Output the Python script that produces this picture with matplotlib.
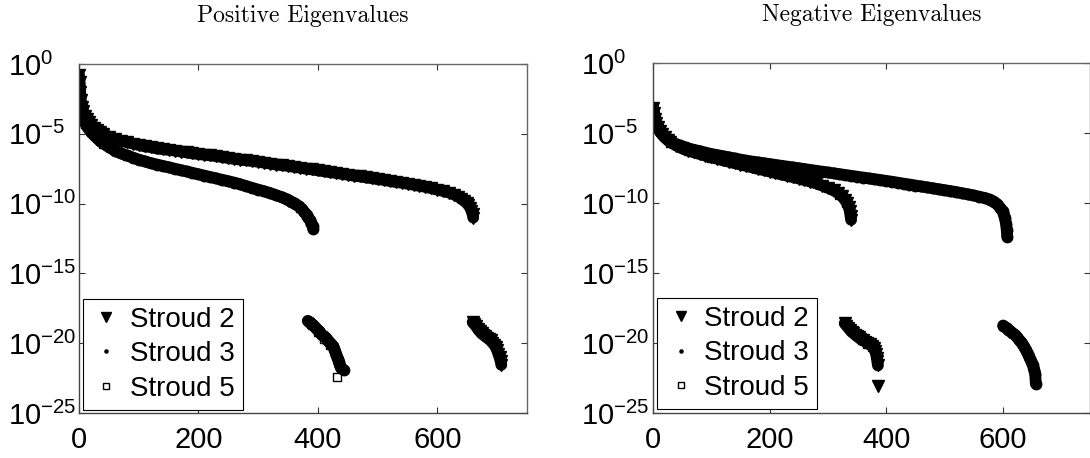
import numpy as np
import matplotlib
matplotlib.use("Agg")
import matplotlib.pyplot as plt
from matplotlib.ticker import NullLocator

plt.rcParams['font.family'] = ['Liberation Sans', 'DejaVu Sans']

# ---------------- data (index, log10 of eigenvalue magnitude) ----------------
labels = ["Stroud 2", "Stroud 3", "Stroud 5"]
titles = ["Positive Eigenvalues", "Negative Eigenvalues"]
xticks = [0, 200, 400, 600]
ytick_exps = [0, -5, -10, -15, -20, -25]

# Positive, Stroud 2 (long branch + near-zero cluster)
pos_s2_idx = [0, 1, 2, 3, 5, 7, 10, 13, 16, 20, 25, 30, 35, 40, 50, 60, 70, 80, 90, 100,
              110, 120, 130, 140, 150, 160, 170, 180, 190, 200, 210, 220, 230, 240, 250,
              260, 270, 280, 290, 300, 310, 320, 330, 340, 350, 360, 370, 380, 390, 400,
              410, 420, 430, 440, 450, 460, 470, 480, 490, 500, 510, 520, 530, 540, 550,
              560, 570, 580, 590, 600, 610, 620, 628, 635, 640, 645, 649, 652, 655, 657,
              659, 660,
              659, 662, 665, 668, 671, 674, 677, 680, 683, 686, 689, 692, 695, 698, 700,
              702, 704, 706, 707]
pos_s2_log = [-0.8, -1.3, -2.0, -2.6, -3.1, -3.4, -3.7, -3.95, -4.15, -4.35, -4.55, -4.75,
              -4.9, -5.0, -5.2, -5.35, -5.5, -5.6, -5.7, -5.8, -5.9, -5.95, -6.05, -6.1,
              -6.15, -6.2, -6.27, -6.33, -6.4, -6.45, -6.5, -6.55, -6.6, -6.67, -6.73,
              -6.8, -6.85, -6.9, -6.95, -7.0, -7.07, -7.13, -7.2, -7.25, -7.3, -7.37,
              -7.43, -7.5, -7.55, -7.62, -7.68, -7.75, -7.8, -7.87, -7.93, -8.0, -8.05,
              -8.12, -8.18, -8.25, -8.3, -8.38, -8.45, -8.5, -8.58, -8.65, -8.73, -8.8,
              -8.9, -9.0, -9.1, -9.22, -9.35, -9.5, -9.65, -9.8, -9.95, -10.1, -10.3,
              -10.5, -10.75, -11.0,
              -18.5, -18.65, -18.8, -19.0, -19.15, -19.3, -19.4, -19.5, -19.6, -19.7,
              -19.8, -19.95, -20.1, -20.3, -20.5, -20.75, -21.0, -21.3, -21.55]

# Positive, Stroud 3
pos_s3_idx = [0, 1, 2, 3, 5, 7, 10, 13, 16, 20, 25, 30, 35, 40, 45, 50, 60, 70, 80, 90, 100,
              110, 120, 130, 140, 150, 160, 170, 180, 190, 200, 210, 220, 230, 240, 250,
              260, 270, 280, 290, 300, 310, 320, 330, 340, 348, 355, 362, 368, 373, 377,
              381, 384, 387, 389, 391, 392,
              383, 386, 389, 392, 395, 398, 401, 404, 407, 410, 413, 416, 419, 422, 425,
              427, 429, 431, 433, 435, 437, 439, 443]
pos_s3_log = [-1.6, -2.3, -2.8, -3.2, -3.6, -3.9, -4.2, -4.45, -4.65, -4.85, -5.1, -5.3,
              -5.5, -5.65, -5.8, -5.95, -6.2, -6.4, -6.55, -6.7, -6.85, -6.98, -7.1, -7.2,
              -7.3, -7.4, -7.5, -7.6, -7.7, -7.8, -7.9, -8.0, -8.1, -8.2, -8.3, -8.4, -8.5,
              -8.62, -8.75, -8.88, -9.0, -9.12, -9.25, -9.4, -9.55, -9.7, -9.85, -10.0,
              -10.2, -10.4, -10.6, -10.8, -11.0, -11.2, -11.4, -11.6, -11.8,
              -18.4, -18.5, -18.6, -18.7, -18.85, -19.0, -19.1, -19.25, -19.4, -19.5,
              -19.6, -19.75, -19.9, -20.05, -20.2, -20.4, -20.6, -20.85, -21.1, -21.35,
              -21.6, -21.8, -21.9]

# Positive, Stroud 5 (mostly hidden under Stroud 3)
pos_s5_idx = [0, 2, 5, 10, 20, 40, 80, 120, 160, 200, 240, 280, 320, 350, 370, 380, 386,
              390, 400, 410, 420, 428, 432]
pos_s5_log = [-2.5, -3.0, -3.7, -4.3, -4.9, -5.7, -6.6, -7.1, -7.5, -7.9, -8.3, -8.75,
              -9.25, -9.75, -10.3, -10.8, -11.3, -18.7, -19.2, -19.7, -20.1, -20.6, -22.4]

# Negative, Stroud 2 (short branch + cluster)
neg_s2_idx = [0, 2, 4, 6, 9, 12, 16, 20, 25, 30, 40, 50, 60, 70, 80, 90, 100, 110, 120,
              130, 140, 150, 160, 170, 180, 190, 200, 210, 220, 230, 240, 250, 260, 270,
              280, 290, 300, 310, 318, 324, 329, 333, 336, 338, 339, 340,
              329, 332, 335, 338, 341, 344, 347, 350, 353, 356, 360, 364, 368, 372, 376,
              379, 381, 383, 384, 385, 386, 387]
neg_s2_log = [-3.2, -3.6, -4.0, -4.3, -4.6, -4.85, -5.1, -5.3, -5.5, -5.65, -5.9, -6.1,
              -6.25, -6.38, -6.5, -6.62, -6.73, -6.84, -6.95, -7.05, -7.15, -7.25, -7.35,
              -7.45, -7.55, -7.65, -7.75, -7.85, -7.95, -8.05, -8.15, -8.25, -8.35, -8.47,
              -8.6, -8.75, -8.9, -9.1, -9.3, -9.5, -9.75, -10.0, -10.3, -10.6, -10.9, -11.2,
              -18.6, -18.75, -18.9, -19.05, -19.2, -19.3, -19.4, -19.5, -19.6, -19.7,
              -19.8, -19.9, -20.0, -20.1, -20.2, -20.35, -20.55, -20.8, -21.05, -21.3,
              -21.6, -23.1]

# Negative, Stroud 3 (long branch + cluster)
neg_s3_idx = [0, 2, 4, 6, 9, 12, 16, 20, 25, 30, 40, 50, 60, 70, 80, 90, 100, 110, 120,
              130, 140, 150, 160, 170, 180, 190, 200, 210, 220, 230, 240, 250, 260, 270,
              280, 290, 300, 310, 320, 330, 340, 350, 360, 370, 380, 390, 400, 410, 420,
              430, 440, 450, 460, 470, 480, 490, 500, 510, 520, 530, 540, 550, 560, 570,
              578, 585, 591, 596, 600, 603, 604, 606, 607, 608,
              601, 604, 607, 610, 613, 616, 619, 622, 625, 628, 631, 634, 637, 640, 643,
              646, 649, 652, 654, 656, 657]
neg_s3_log = [-3.3, -3.7, -4.05, -4.35, -4.65, -4.9, -5.1, -5.3, -5.45, -5.6, -5.8, -5.95,
              -6.1, -6.2, -6.3, -6.4, -6.5, -6.58, -6.66, -6.74, -6.82, -6.9, -6.97,
              -7.04, -7.1, -7.16, -7.22, -7.28, -7.34, -7.4, -7.46, -7.52, -7.58, -7.64,
              -7.7, -7.76, -7.82, -7.88, -7.94, -8.0, -8.06, -8.12, -8.18, -8.24, -8.3,
              -8.36, -8.42, -8.48, -8.55, -8.62, -8.68, -8.75, -8.82, -8.88, -8.95, -9.02,
              -9.08, -9.15, -9.22, -9.3, -9.38, -9.46, -9.55, -9.65, -9.75, -9.9, -10.1,
              -10.35, -10.6, -10.9, -11.1, -11.5, -11.9, -12.4,
              -18.75, -18.85, -18.95, -19.05, -19.15, -19.25, -19.35, -19.45, -19.6,
              -19.75, -19.9, -20.05, -20.25, -20.5, -20.75, -21.0, -21.3, -21.6, -21.9,
              -22.2, -22.9]

# Negative, Stroud 5 (hidden under Stroud 2)
neg_s5_idx = [0, 3, 8, 15, 30, 60, 100, 140, 180, 220, 260, 300, 320, 332, 337,
              340, 348, 358, 368, 376, 382]
neg_s5_log = [-3.3, -3.9, -4.6, -5.1, -5.7, -6.3, -6.75, -7.15, -7.55, -7.95, -8.35,
              -8.9, -9.4, -10.0, -10.5, -19.1, -19.45, -19.8, -20.05, -20.25, -20.8]

series = [
    [(pos_s2_idx, pos_s2_log), (pos_s3_idx, pos_s3_log), (pos_s5_idx, pos_s5_log)],
    [(neg_s2_idx, neg_s2_log), (neg_s3_idx, neg_s3_log), (neg_s5_idx, neg_s5_log)],
]


def runs(idx, lg, gap=1.0):
    """Split an eigenvalue list into contiguous runs (break at big jumps)."""
    out, start = [], 0
    for i in range(1, len(idx)):
        if abs(lg[i] - lg[i - 1]) > gap or idx[i] < idx[i - 1]:
            out.append((idx[start:i], lg[start:i]))
            start = i
    out.append((idx[start:], lg[start:]))
    return out


# ---------------- figure ----------------
W, H = 1090, 458
fig = plt.figure(figsize=(W / 100, H / 100), dpi=100)
rects = [[79 / W, 45 / H, 448 / W, 349 / H],
         [653 / W, 45 / H, 437 / W, 350 / H]]
ylabel_pad = [51, 51.5]
ylabel_ha = ['left', 'left']

styles = [dict(marker='v', ms=8, mfc='black', mec='black'),
          dict(marker='.', ms=15, mfc='black', mec='black'),
          dict(marker='s', ms=5.5, mfc='none', mec='black', mew=1.0)]
zorders = [2.3, 2.4, 2.1]
band_lw = [8.5, 8.5, 0]
legend_ms = [7.5, 4.5, 5]
legend_anchor = [(0.008, 0.009), (0.009, 0.011)]

for k in range(2):
    ax = fig.add_axes(rects[k])
    for j, ((idx, lg), lab, st) in enumerate(zip(series[k], labels, styles)):
        if band_lw[j] > 0:
            for ri, rl in runs(idx, lg):
                if len(ri) > 1:
                    ax.plot(ri, 10.0 ** np.array(rl), '-', color='black',
                            lw=band_lw[j], solid_capstyle='round',
                            solid_joinstyle='round', zorder=zorders[j])
        ax.plot(idx, 10.0 ** np.array(lg), linestyle='none', color='black',
                label=lab, zorder=zorders[j], **st)
    ax.set_yscale('log')
    ax.set_xlim(0, 750)
    ax.set_ylim(1e-25, 1)
    ax.set_xticks(xticks)
    ax.set_yticks([10.0 ** e for e in ytick_exps])
    ax.yaxis.set_minor_locator(NullLocator())
    ax.tick_params(axis='both', which='major', direction='in', length=4,
                   top=True, right=True, width=0.8, color='#333333')
    ax.tick_params(axis='x', pad=9, labelsize=21)
    ax.tick_params(axis='y', pad=ylabel_pad[k], labelsize=21)
    for lab_t in ax.get_yticklabels():
        lab_t.set_horizontalalignment(ylabel_ha[k])
    for name, s in ax.spines.items():
        s.set_color('#444444' if name in ('left', 'bottom') else '#666666')
        s.set_linewidth(1.0)
    ax.set_title(titles[k], fontfamily='cmr10', fontsize=17, pad=30)
    handles, labs = ax.get_legend_handles_labels()
    leg = ax.legend(handles, labs, loc='lower left', bbox_to_anchor=legend_anchor[k],
                    borderaxespad=0, fontsize=20, frameon=True, fancybox=False,
                    framealpha=1, edgecolor='black', handlelength=1.1,
                    handletextpad=0.3, labelspacing=0.3, borderpad=0.3,
                    numpoints=1)
    leg.set_zorder(5)
    leg.get_frame().set_linewidth(0.8)
    for h, ms in zip(leg.legend_handles, legend_ms):
        h.set_markersize(ms)

fig.savefig('out.png', dpi=100)
